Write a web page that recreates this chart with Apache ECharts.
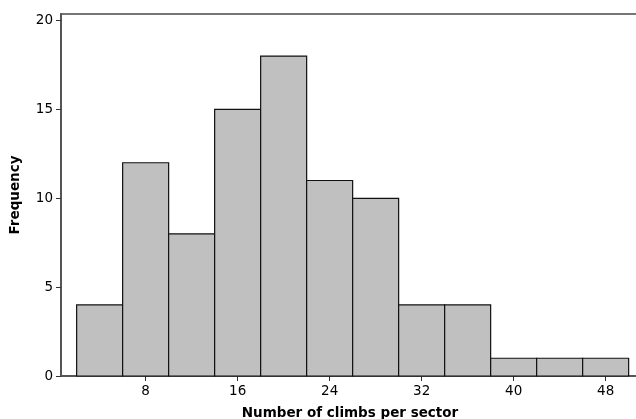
<!DOCTYPE html>
<html><head><meta charset="utf-8">
<script src="https://cdn.jsdelivr.net/npm/echarts@6/dist/echarts.min.js"></script>
<style>html,body{margin:0;padding:0;background:#fff}#c{width:636px;height:419px}</style>
</head><body><div id="c"></div>
<script>
const binStart = [2, 6, 10, 14, 18, 22, 26, 30, 34, 38, 42, 46];
const binEnd   = [6, 10, 14, 18, 22, 26, 30, 34, 38, 42, 46, 50];
const frequency = [4, 12, 8, 15, 18, 11, 10, 4, 4, 1, 1, 1];
const xTicks = [8, 16, 24, 32, 40, 48];
const yTicks = [0, 5, 10, 15, 20];

const data = binStart.map((s, i) => [s, binEnd[i], frequency[i]]);
const font = 'DejaVu Sans';
const chart = echarts.init(document.getElementById('c'), null, {renderer: 'canvas'});
chart.setOption({
  animation: false,
  grid: {left: 61, right: -3, top: 14, bottom: 43, show: true, borderColor: '#4a4a4a', borderWidth: 1.5,
         containLabel: false, outerBoundsMode: 'none'},
  xAxis: {
    type: 'value', min: 0.64, max: 50.9,
    name: 'Number of climbs per sector', nameLocation: 'middle', nameGap: 30,
    nameTextStyle: {fontFamily: font, fontWeight: 'bold', fontSize: 13.5, color: '#000'},
    axisLine: {lineStyle: {color: '#555', width: 2}},
    axisTick: {show: true, length: 5, customValues: xTicks, lineStyle: {color: '#333', width: 1}},
    axisLabel: {customValues: xTicks, fontFamily: font, fontSize: 13.5, color: '#000', margin: 8},
    splitLine: {show: false}
  },
  yAxis: {
    type: 'value', min: 0, max: 20.37,
    name: 'Frequency', nameLocation: 'middle', nameGap: 39, nameRotate: 90,
    nameTextStyle: {fontFamily: font, fontWeight: 'bold', fontSize: 13.5, color: '#000'},
    axisLine: {show: true, lineStyle: {color: '#555', width: 2}},
    axisTick: {show: true, length: 5, customValues: yTicks, lineStyle: {color: '#333', width: 1}},
    axisLabel: {customValues: yTicks, fontFamily: font, fontSize: 13.5, color: '#000', margin: 8},
    splitLine: {show: false}
  },
  series: [{
    type: 'custom',
    data: data,
    encode: {x: [0, 1], y: 2},
    renderItem: function (params, api) {
      const p0 = api.coord([api.value(0), 0]);
      const p1 = api.coord([api.value(1), api.value(2)]);
      return {
        type: 'rect',
        shape: {x: p0[0], y: p1[1], width: p1[0] - p0[0], height: p0[1] - p1[1]},
        style: {fill: '#c0c0c0', stroke: '#111', lineWidth: 1.2}
      };
    }
  }]
});
</script></body></html>
